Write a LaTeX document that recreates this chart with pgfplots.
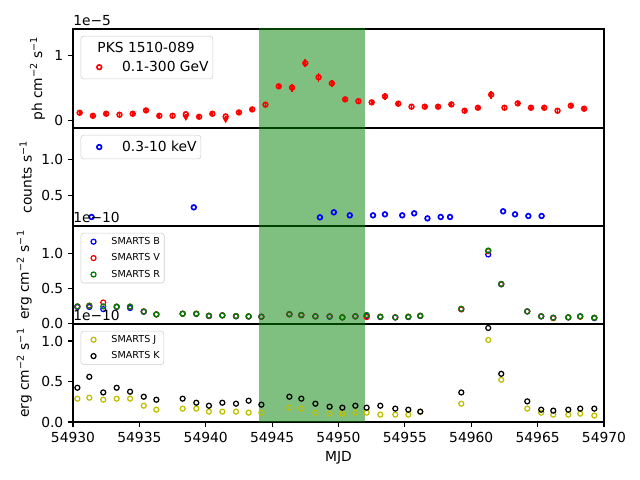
\documentclass[border=0pt]{standalone}
\usepackage{pgfplots}
\pgfplotsset{compat=1.18}
\usepackage{fontspec}
\setmainfont{DejaVu Sans}
\definecolor{mplgreen}{rgb}{0,0.5,0}
\definecolor{mplyellow}{rgb}{0.75,0.75,0}
\definecolor{bandgreen}{rgb}{0,0.5,0}
\pgfplotsset{
  panel/.style={
    scale only axis, width=382.32bp, height=70.56bp,
    xmin=54930, xmax=54970, scaled x ticks=false, scaled y ticks=false,
    axis line style={line width=0.8pt},
    every tick/.style={black, line width=0.8pt},
    tick align=outside, major tick length=3.5pt,
    ytick pos=left, xtick pos=bottom,
    tick label style={font=\fontsize{10}{12}\selectfont},
    label style={font=\fontsize{10}{12}\selectfont},
    legend cell align=left,
    legend style={at={(0,1)}, anchor=north west, xshift=5.5bp, yshift=-5bp,
      draw=black!20, rounded corners=2pt, fill=white, fill opacity=0.8, text opacity=1,
      font=\fontsize{10}{12}\selectfont, inner xsep=1bp, inner ysep=2bp,
      row sep=1bp, column sep=0pt},
  },
  bigimg/.style={legend image code/.code={\path[draw=none,fill=none] (0pt,0pt) -- (26.7bp,0pt); \draw[##1] plot coordinates {(12.2bp,0pt)};}},
  smallimg/.style={legend image code/.code={\path[draw=none,fill=none] (0pt,0pt) -- (19bp,0pt); \draw[##1] plot coordinates {(8.1bp,0pt)};}},
  band/.style={fill=bandgreen, fill opacity=0.5, draw=none, forget plot},
  mk/.style={only marks, mark=o, mark size=1.8pt, line width=0.9pt, smallimg},
  mkb/.style={only marks, mark=o, mark size=1.7pt, line width=1.2pt, bigimg},
  smallleg/.style={legend style={font=\fontsize{6.94}{8}\selectfont, inner xsep=1bp, inner ysep=0.8bp,
      row sep=1.2bp}},
}
\begin{document}
\begin{tikzpicture}
\path[use as bounding box] (0,0) rectangle (460.8bp,345.6bp);

% ---------- panel 1: Fermi ----------
\begin{axis}[panel, name=p1, at={(52.56bp,253.44bp)}, anchor=south west, height=71.28bp,
  ymin=-0.115, ymax=1.40, ytick={0,1}, yticklabels={0,1}, xtick=\empty,
  ylabel={ph cm\textsuperscript{−2} s\textsuperscript{−1}}]
\addplot[band] coordinates {(54944,-1) (54952,-1) (54952,2) (54944,2)} -- cycle;
\addlegendimage{empty legend}
\addlegendentry{\hspace{-17.8bp}PKS 1510-089}
\addplot[red, mkb, error bars/.cd, y dir=both, y explicit, error bar style={line width=1.3pt}, error mark=none]
 table[x=x, y=y, y error=e] {
x y e
54930.5 0.118 0.02
54931.5 0.072 0.02
54932.5 0.103 0.02
54933.5 0.088 0.02
54934.5 0.103 0.02
54935.5 0.154 0.035
54936.5 0.072 0.02
54937.5 0.072 0.02
54939.5 0.057 0.02
54940.5 0.103 0.02
54942.5 0.123 0.025
54943.5 0.169 0.03
54944.5 0.242 0.03
54945.5 0.523 0.04
54946.5 0.503 0.06
54947.5 0.877 0.06
54948.5 0.662 0.07
54949.5 0.569 0.05
54950.5 0.323 0.03
54951.5 0.295 0.03
54952.5 0.277 0.02
54953.5 0.369 0.05
54954.5 0.257 0.025
54955.5 0.211 0.02
54956.5 0.211 0.02
54957.5 0.211 0.02
54958.5 0.246 0.03
54959.5 0.149 0.02
54960.5 0.195 0.02
54961.5 0.395 0.06
54962.5 0.195 0.02
54963.5 0.262 0.025
54964.5 0.195 0.02
54965.5 0.195 0.02
54966.5 0.149 0.02
54967.5 0.226 0.025
54968.5 0.180 0.02
};
\addlegendentry{0.1-300 GeV}
\addplot[red, mkb, forget plot, error bars/.cd, y dir=minus, y explicit, error bar style={line width=1.3pt}, error mark=none]
 coordinates {(54938.5,0.097) -= (0,0.07) (54941.5,0.062) -= (0,0.07)};
\addplot[red, only marks, mark=triangle*, mark size=2.2pt, mark options={rotate=180}, forget plot]
 coordinates {(54938.5,0.049) (54941.5,0.014)};
\end{axis}

% ---------- panel 2: X-ray ----------
\begin{axis}[panel, name=p2, at={(52.56bp,182.88bp)}, anchor=south west,
  ymin=0.074, ymax=1.435, ytick={0.5,1.0}, yticklabels={0.5,1.0}, xtick=\empty,
  ylabel={counts s\textsuperscript{−1}}]
\addplot[blue, mkb] coordinates {
(54931.4,0.199) (54939.1,0.333) (54948.6,0.194) (54949.65,0.264) (54950.85,0.222)
(54952.6,0.222) (54953.5,0.236) (54954.8,0.222) (54955.7,0.250) (54956.7,0.180)
(54957.7,0.199) (54958.4,0.199) (54962.4,0.278) (54963.3,0.236) (54964.3,0.213)
(54965.3,0.213)};
\addlegendentry{0.3-10 keV}
\addplot[band] coordinates {(54944,-1) (54952,-1) (54952,2) (54944,2)} -- cycle;
\end{axis}

% ---------- panel 3: optical ----------
\pgfplotstableread{
x B V R
54930.33 0.235 0.243 0.243
54931.23 0.235 0.255 0.250
54932.28 0.204 0.300 0.243
54933.29 0.235 0.240 0.240
54934.30 0.220 0.240 0.240
54935.33 0.165 0.171 0.171
54936.28 0.128 0.128 0.128
54938.26 0.138 0.138 0.138
54939.29 0.135 0.138 0.138
54940.24 0.104 0.109 0.109
54941.25 0.114 0.114 0.114
54942.28 0.100 0.104 0.104
54943.23 0.097 0.100 0.100
54944.19 0.095 0.095 0.095
54946.30 0.130 0.128 0.133
54947.20 0.119 0.115 0.119
54948.26 0.100 0.100 0.100
54949.33 0.095 0.100 0.100
54950.29 0.085 0.085 0.085
54951.27 0.100 0.100 0.100
54952.12 0.105 0.090 0.120
54953.15 0.090 0.095 0.095
54954.28 0.085 0.085 0.085
54955.26 0.090 0.095 0.095
54956.16 0.105 0.109 0.109
54959.25 0.205 0.200 0.209
54961.28 0.990 1.037 1.047
54962.26 0.560 0.566 0.566
54964.22 0.171 0.171 0.171
54965.27 0.100 0.100 0.100
54966.18 0.080 0.075 0.080
54967.31 0.085 0.085 0.085
54968.21 0.100 0.095 0.100
54969.27 0.075 0.080 0.080
}\optical
\begin{axis}[panel, smallleg, name=p3, at={(52.56bp,112.32bp)}, anchor=south west,
  ymin=-0.01, ymax=1.40, ytick={0,0.5,1.0}, yticklabels={0.0,0.5,1.0}, xtick=\empty,
  ylabel={erg cm\textsuperscript{−2} s\textsuperscript{−1}}]
\addplot[blue, mk] table[x=x, y=B] {\optical};
\addlegendentry{SMARTS B}
\addplot[red, mk] table[x=x, y=V] {\optical};
\addlegendentry{SMARTS V}
\addplot[mplgreen, mk] table[x=x, y=R] {\optical};
\addlegendentry{SMARTS R}
\addplot[band] coordinates {(54944,-1) (54952,-1) (54952,2) (54944,2)} -- cycle;
\end{axis}

% ---------- panel 4: NIR ----------
\pgfplotstableread{
x J K
54930.33 0.288 0.423
54931.23 0.300 0.558
54932.28 0.275 0.365
54933.29 0.288 0.423
54934.30 0.288 0.374
54935.33 0.201 0.312
54936.28 0.152 0.275
54938.26 0.165 0.288
54939.29 0.165 0.238
54940.24 0.128 0.201
54941.25 0.128 0.238
54942.28 0.128 0.226
54943.23 0.115 0.263
54944.19 0.115 0.214
54946.30 0.177 0.312
54947.20 0.165 0.288
54948.26 0.115 0.226
54949.33 0.103 0.189
54950.29 0.103 0.177
54951.27 0.115 0.201
54952.12 0.115 0.177
54953.15 0.091 0.201
54954.28 0.091 0.165
54955.26 0.091 0.152
54956.16 0.125 0.128
54959.25 0.226 0.365
54961.28 1.013 1.161
54962.26 0.521 0.595
54964.22 0.165 0.255
54965.27 0.115 0.152
54966.18 0.091 0.140
54967.31 0.091 0.152
54968.21 0.103 0.165
54969.27 0.079 0.165
}\nir
\begin{axis}[panel, smallleg, name=p4, at={(52.56bp,41.76bp)}, anchor=south west,
  ymin=0, ymax=1.21, ytick={0,0.5,1.0}, yticklabels={0.0,0.5,1.0},
  xtick={54930,54935,54940,54945,54950,54955,54960,54965,54970},
  xticklabels={54930,54935,54940,54945,54950,54955,54960,54965,54970},
  xlabel={MJD},
  ylabel={erg cm\textsuperscript{−2} s\textsuperscript{−1}}]
\addplot[mplyellow, mk] table[x=x, y=J] {\nir};
\addlegendentry{SMARTS J}
\addplot[black, mk] table[x=x, y=K] {\nir};
\addlegendentry{SMARTS K}
\addplot[band] coordinates {(54944,-1) (54952,-1) (54952,2) (54944,2)} -- cycle;
\end{axis}

\node[anchor=south west, inner sep=0pt, font=\fontsize{10}{12}\selectfont] at ([yshift=2.5bp]p1.north west) {1e−5};
\node[anchor=south west, inner sep=0pt, font=\fontsize{10}{12}\selectfont] at ([yshift=2bp]p3.north west) {1e−10};
\node[anchor=south west, inner sep=0pt, font=\fontsize{10}{12}\selectfont] at ([yshift=2bp]p4.north west) {1e−10};
\end{tikzpicture}
\end{document}
